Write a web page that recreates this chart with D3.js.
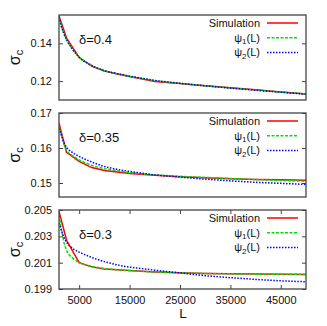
<!DOCTYPE html>
<html><head><meta charset="utf-8">
<script src="https://cdn.jsdelivr.net/npm/d3@7"></script>
<style>
html,body{margin:0;padding:0;background:#fff;}
svg{display:block;font-family:"Liberation Sans",Arial,sans-serif;}
</style></head>
<body><svg id="c" width="327" height="326"></svg>
<script>
// ---- data ----
const simL = [1000, 2500, 5000, 7500, 10000, 15000, 20000, 25000, 30000, 35000, 40000, 45000, 50000];
const modelL = [1000, 1500, 2000, 2500, 3000, 4000, 5000, 6000, 8000, 10000, 12500, 15000, 20000, 25000, 30000, 35000, 40000, 45000, 50000];

const deltaLabels = ["δ=0.4", "δ=0.35", "δ=0.3"];

const sim04  = [0.1545, 0.1428, 0.1325, 0.1280, 0.1254, 0.1224, 0.1198, 0.1187, 0.1176, 0.1165, 0.1154, 0.1143, 0.1132];
const psi1_04 = [0.1540, 0.1487, 0.1450, 0.1420, 0.1396, 0.1356, 0.1326, 0.1305, 0.1274, 0.1254, 0.1238, 0.1225, 0.1202, 0.1188, 0.1175, 0.1164, 0.1153, 0.1142, 0.1132];
const psi2_04 = [0.1538, 0.1486, 0.1449, 0.1419, 0.1395, 0.1356, 0.1326, 0.1305, 0.1275, 0.1255, 0.1239, 0.1226, 0.1203, 0.1188, 0.1175, 0.1163, 0.1152, 0.1141, 0.1131];

const sim035  = [0.1671, 0.1588, 0.1562, 0.1544, 0.1536, 0.1527, 0.1522, 0.1518, 0.1515, 0.1512, 0.1510, 0.1509, 0.1508];
const psi1_035 = [0.1662, 0.1637, 0.1610, 0.1593, 0.1584, 0.1575, 0.1566, 0.1559, 0.1548, 0.1541, 0.1535, 0.1530, 0.1523, 0.1519, 0.1516, 0.1513, 0.1510, 0.1507, 0.1505];
const psi2_035 = [0.1656, 0.1635, 0.1615, 0.1601, 0.1594, 0.1584, 0.1576, 0.1569, 0.1557, 0.1547, 0.1539, 0.1533, 0.1523, 0.1517, 0.1511, 0.1506, 0.1502, 0.1499, 0.1496];

const sim03  = [0.2049, 0.2027, 0.2010, 0.20068, 0.20052, 0.20040, 0.20030, 0.20023, 0.20018, 0.20015, 0.20013, 0.20012, 0.20011];
const psi1_03 = [0.2046, 0.2035, 0.2025, 0.2019, 0.20160, 0.20125, 0.20100, 0.20085, 0.20068, 0.20055, 0.20046, 0.20039, 0.20029, 0.20022, 0.20018, 0.20015, 0.20013, 0.20012, 0.20011];
const psi2_03 = [0.2040, 0.2034, 0.2029, 0.20255, 0.20230, 0.20200, 0.20180, 0.20163, 0.20132, 0.20108, 0.20083, 0.20066, 0.20043, 0.20022, 0.20001, 0.19986, 0.19973, 0.19962, 0.19955];

const yDomains = [[0.11, 0.155], [0.146, 0.17], [0.199, 0.205]];
const yTicks = [[0.12, 0.14], [0.15, 0.16, 0.17], [0.199, 0.201, 0.203, 0.205]];
const yTickFmt = [".2f", ".2f", ".3f"];
const xDomain = [1000, 50000];
const xTicks = [5000, 15000, 25000, 35000, 45000];
const legendNames = ["Simulation", "ψ1", "ψ2"];

const panels = [
  {sim: sim04, p1: psi1_04, p2: psi2_04},
  {sim: sim035, p1: psi1_035, p2: psi2_035},
  {sim: sim03, p1: psi1_03, p2: psi2_03}
];

// ---- layout ----
const svg = d3.select("#c");
const left = 59, right = 306;
const boxes = [[15, 100], [113, 197], [210, 289]];
const x = d3.scaleLinear().domain(xDomain).range([left, right]);
const colors = ["#ff0000", "#00e000", "#0000ff"];
const dashes = [null, "3,1.5", "1.5,1.5"];
const frameColor = "#444";

panels.forEach((p, i) => {
  const [top, bottom] = boxes[i];
  const y = d3.scaleLinear().domain(yDomains[i]).range([bottom, top]);
  const g = svg.append("g");
  const clipId = "clip" + i;
  svg.append("clipPath").attr("id", clipId).append("rect")
    .attr("x", left).attr("y", top).attr("width", right - left).attr("height", bottom - top);

  // left axis ticks + labels
  const yl = g.append("g").attr("transform", `translate(${left},0)`)
    .call(d3.axisLeft(y).tickValues(yTicks[i]).tickSize(-4).tickPadding(7).tickFormat(d3.format(yTickFmt[i])));
  yl.select(".domain").remove();
  yl.selectAll("line").attr("stroke", frameColor);
  yl.selectAll("text").attr("font-size", 11).attr("fill", "#111").attr("font-family", "Liberation Sans, Arial, sans-serif");
  // right mirrored ticks
  const yr = g.append("g").attr("transform", `translate(${right},0)`)
    .call(d3.axisRight(y).tickValues(yTicks[i]).tickSize(-4).tickFormat(""));
  yr.select(".domain").remove();
  yr.selectAll("line").attr("stroke", frameColor);

  if (i === 2) {
    const xb = g.append("g").attr("transform", `translate(0,${bottom})`)
      .call(d3.axisBottom(x).tickValues(xTicks).tickSize(-4).tickPadding(7).tickFormat(d3.format("d")));
    xb.select(".domain").remove();
    xb.selectAll("line").attr("stroke", frameColor);
    xb.selectAll("text").attr("font-size", 11).attr("fill", "#111").attr("font-family", "Liberation Sans, Arial, sans-serif");
    const xt = g.append("g").attr("transform", `translate(0,${top})`)
      .call(d3.axisTop(x).tickValues(xTicks).tickSize(-4).tickFormat(""));
    xt.select(".domain").remove();
    xt.selectAll("line").attr("stroke", frameColor);
  }

  // curves
  const line = d3.line().x(d => x(d[0])).y(d => y(d[1]));
  const series = [
    simL.map((L, k) => [L, p.sim[k]]),
    modelL.map((L, k) => [L, p.p1[k]]),
    modelL.map((L, k) => [L, p.p2[k]])
  ];
  const cg = g.append("g").attr("clip-path", `url(#${clipId})`);
  series.forEach((s, k) => {
    cg.append("path").datum(s).attr("d", line)
      .attr("fill", "none").attr("stroke", colors[k]).attr("stroke-width", 1.5)
      .attr("stroke-dasharray", dashes[k]);
  });

  // frame
  g.append("rect").attr("x", left).attr("y", top).attr("width", right - left).attr("height", bottom - top)
    .attr("fill", "none").attr("stroke", frameColor).attr("stroke-width", 1.3);

  // delta label
  g.append("text").attr("x", 79).attr("y", top + 28.5).attr("font-size", 13).attr("fill", "#111")
    .text(deltaLabels[i]);

  // legend
  const offs = [8, 22.7, 37.5];
  legendNames.forEach((nm, k) => {
    const ly = top + offs[k];
    const t = g.append("text").attr("x", 260).attr("y", ly).attr("dy", "0.35em")
      .attr("text-anchor", "end").attr("font-size", 11).attr("fill", "#111");
    if (k === 0) t.text(nm);
    else {
      t.append("tspan").text("ψ");
      t.append("tspan").attr("font-size", 8).attr("dy", 2.5).text(String(k));
      t.append("tspan").attr("dy", -2.5).text("(L)");
    }
    g.append("line").attr("x1", 267).attr("x2", 298).attr("y1", ly).attr("y2", ly)
      .attr("stroke", colors[k]).attr("stroke-width", 1.5).attr("stroke-dasharray", dashes[k]);
  });

  // y label
  const cy = (top + bottom) / 2;
  const yt = g.append("text").attr("transform", `translate(20,${cy}) rotate(-90)`)
    .attr("text-anchor", "middle").attr("font-size", 16).attr("fill", "#111");
  yt.append("tspan").text("σ");
  yt.append("tspan").attr("font-size", 11).attr("dy", 3).text("c");
});

// x label
svg.append("text").attr("x", 183).attr("y", 318).attr("text-anchor", "middle")
  .attr("font-size", 13.5).attr("fill", "#111").text("L");
</script>
</body></html>
